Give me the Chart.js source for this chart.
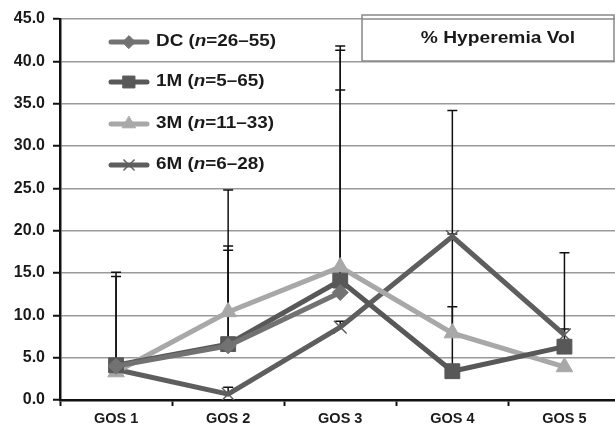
<!DOCTYPE html>
<html>
<head>
<meta charset="utf-8">
<script src="https://cdn.jsdelivr.net/npm/chart.js@4.4.1/dist/chart.umd.min.js"></script>
<style>
  html, body { margin: 0; padding: 0; background: #fff; overflow: hidden; }
  /* a little wider than the window so the plot runs off the right edge like the original */
  #wrap { width: 632px; height: 428px; position: relative; }
</style>
</head>
<body>
<div id="wrap"><canvas id="chart"></canvas></div>
<script>
const categories = ['GOS 1', 'GOS 2', 'GOS 3', 'GOS 4', 'GOS 5'];

// mean values
const dcValues = [4.0, 6.4, 12.7, null, null];
const m1Values = [4.1, 6.6, 14.1, 3.4, 6.3];
const m3Values = [3.3, 10.4, 15.7, 7.9, 3.9];
const m6Values = [3.6, 0.7, 8.6, 19.3, 7.7];

// upper ends of the error bars
const dcUpper = [15.1, 17.7, 36.6, null, null];
const m1Upper = [14.6, 18.2, 41.3, 34.2, 17.4];
const m3Upper = [null, 24.8, 41.8, 11.0, null];
const m6Upper = [null, 1.5, 9.3, 19.6, 8.4];

const legendNames = [['DC (', '=26\u201355)'], ['1M (', '=5\u201365)'], ['3M (', '=11\u201333)'], ['6M (', '=6\u201328)']];
const yTicks = [0, 5, 10, 15, 20, 25, 30, 35, 40, 45];

const FONT = '"Liberation Sans", Arial, sans-serif';

const errorBars = {
    id: 'errorBars',
    beforeDatasetsDraw(chart) {
        const ctx = chart.ctx;
        const y = chart.scales.y;
        ctx.save();
        ctx.strokeStyle = '#111';
        ctx.lineWidth = 1.5;
        chart.data.datasets.forEach(function (ds, i) {
            const meta = chart.getDatasetMeta(i);
            ds.upper.forEach(function (up, j) {
                if (up == null || ds.data[j] == null) return;
                const pt = meta.data[j];
                const top = y.getPixelForValue(up);
                ctx.beginPath();
                ctx.moveTo(pt.x, pt.y);
                ctx.lineTo(pt.x, top);
                ctx.moveTo(pt.x - 5, top);
                ctx.lineTo(pt.x + 5, top);
                ctx.stroke();
            });
        });
        ctx.restore();
    }
};

// text in the picture is a little stretched sideways
function wideText(ctx, text, x, y, sx) {
    ctx.save();
    ctx.translate(x, y);
    ctx.scale(sx, 1);
    ctx.fillText(text, 0, 0);
    ctx.restore();
    return ctx.measureText(text).width * sx;
}

const boxesAndLegend = {
    id: 'boxesAndLegend',
    afterDraw(chart) {
        const ctx = chart.ctx;
        ctx.save();
        // title box
        ctx.fillStyle = '#fff';
        ctx.fillRect(362, 15, 252, 46);
        ctx.strokeStyle = '#888';
        ctx.lineWidth = 1.5;
        ctx.strokeRect(362, 15, 252, 46);
        ctx.beginPath();
        ctx.moveTo(362, 19);
        ctx.lineTo(614, 19);
        ctx.stroke();
        ctx.fillStyle = '#1a1a1a';
        ctx.font = 'bold 16px ' + FONT;
        ctx.textAlign = 'center';
        ctx.textBaseline = 'middle';
        wideText(ctx, '% Hyperemia Vol', 498, 39, 1.2);

        // legend
        const rows = [42, 82, 124, 165];
        chart.data.datasets.forEach(function (ds, i) {
            const yy = rows[i];
            ctx.strokeStyle = ds.borderColor;
            ctx.lineWidth = 5;
            ctx.lineCap = 'round';
            ctx.beginPath();
            ctx.moveTo(111, yy);
            ctx.lineTo(147, yy);
            ctx.stroke();
            ctx.fillStyle = ds.pointBackgroundColor;
            ctx.strokeStyle = ds.pointBorderColor;
            ctx.lineWidth = ds.pointBorderWidth;
            Chart.helpers.drawPoint(ctx, {
                pointStyle: ds.pointStyle,
                radius: ds.pointRadius * 0.8,
                borderWidth: ds.pointBorderWidth
            }, 129, yy);

            ctx.fillStyle = '#1a1a1a';
            ctx.textAlign = 'left';
            ctx.textBaseline = 'middle';
            let x = 156;
            const parts = legendNames[i];
            ctx.font = 'bold 16px ' + FONT;
            x += wideText(ctx, parts[0], x, yy, 1.18);
            ctx.font = 'italic bold 16px ' + FONT;
            x += wideText(ctx, 'n', x, yy, 1.18);
            ctx.font = 'bold 16px ' + FONT;
            wideText(ctx, parts[1], x, yy, 1.18);
        });
        ctx.restore();
    }
};

function series(label, data, upper, color, style, radius, borderW) {
    return {
        label: label,
        data: data,
        upper: upper,
        borderColor: color,
        backgroundColor: color,
        borderWidth: 5,
        pointStyle: style,
        pointRadius: radius,
        pointHoverRadius: radius,
        pointBackgroundColor: color,
        pointBorderColor: color,
        pointBorderWidth: borderW,
        tension: 0,
        spanGaps: false
    };
}

const config = {
    type: 'line',
    data: {
        labels: categories,
        datasets: [
            series('DC', dcValues, dcUpper, '#727272', 'rectRot', 8, 1),
            series('1M', m1Values, m1Upper, '#585858', 'rect', 10.5, 1),
            series('3M', m3Values, m3Upper, '#a8a8a8', 'triangle', 9.5, 1),
            series('6M', m6Values, m6Upper, '#5e5e5e', 'crossRot', 9, 1.5)
        ]
    },
    options: {
        responsive: true,
        maintainAspectRatio: false,
        animation: false,
        layout: { padding: { top: 19, right: 0, left: 0, bottom: 0 } },
        plugins: {
            legend: { display: false },
            tooltip: { enabled: false }
        },
        scales: {
            x: {
                offset: true,
                grid: {
                    offset: true,
                    drawOnChartArea: false,
                    drawTicks: true,
                    tickLength: 6,
                    tickColor: '#111',
                    tickWidth: 2
                },
                border: { display: true, color: '#111', width: 2.5 },
                ticks: {
                    color: '#1a1a1a',
                    padding: 4,
                    font: { family: FONT, size: 14.5, weight: 'bold' }
                },
                afterFit: function (scale) {
                    scale.height = 28;
                    scale.paddingLeft = 0;
                    scale.paddingRight = 0;
                }
            },
            y: {
                min: 0,
                max: 45,
                afterBuildTicks: function (scale) {
                    scale.ticks = yTicks.map(v => ({ value: v }));
                },
                grid: {
                    color: '#9a9a9a',
                    lineWidth: 1.5,
                    drawTicks: true,
                    tickLength: 7,
                    tickColor: '#111',
                    tickWidth: 2
                },
                border: { display: true, color: '#111', width: 2.5 },
                ticks: {
                    color: '#1a1a1a',
                    padding: 8,
                    font: { family: FONT, size: 16, weight: 'bold' },
                    callback: v => Number(v).toFixed(1)
                },
                afterFit: function (scale) { scale.width = 60; }
            }
        }
    },
    plugins: [errorBars, boxesAndLegend]
};

const chart = new Chart(document.getElementById('chart'), config);
</script>
</body>
</html>
